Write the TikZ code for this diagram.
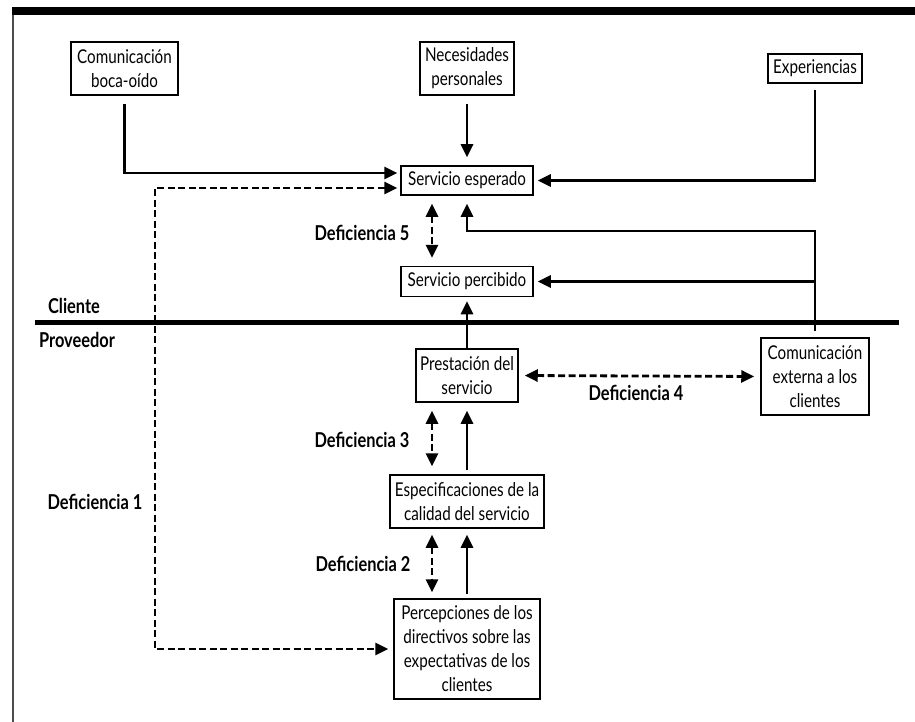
\documentclass[tikz,border=0pt]{standalone}
\usepackage{fontspec}
\setmainfont{Lato}[FakeStretch=0.8]
\usepackage{tikz}
\usetikzlibrary{arrows.meta}

\begin{document}
\begin{tikzpicture}[x=1pt, y=-1pt,
    font=\fontsize{19}{24}\selectfont,
    box/.style={shape=rectangle, draw, line width=1.5pt, align=center, inner sep=3pt},
    gap/.style={font=\fontsize{20.5}{24}\selectfont\bfseries},
    arr/.style={line width=2.8pt, -{Triangle[length=13pt,width=12pt]}},
    gaparr/.style={line width=2.8pt, dash pattern=on 7pt off 3.5pt, {Triangle[length=13pt,width=12pt]}-{Triangle[length=13pt,width=12pt]}}]
    \useasboundingbox (0,0) rectangle (915,722);
    % frame
    \fill (12,7) rectangle (915,15);
    \draw[line width=1.2pt, black!70] (13,15) -- (13,722);

    % client side
    \node[box, minimum width=107pt, minimum height=53pt] (boca) at (124.5,68.5) {Comunicación\\boca-oído};
    \node[box, minimum width=94pt, minimum height=53pt] (necesidades) at (467,68.5) {Necesidades\\personales};
    \node[box, minimum width=94pt, minimum height=29pt] (experiencias) at (815,68.5) {Experiencias};
    \node[box, minimum width=132pt, minimum height=29pt] (esperado) at (467,180.5) {Servicio esperado};
    \node[box, minimum width=132pt, minimum height=30pt] (percibido) at (467,281.5) {Servicio percibido};

    \draw[line width=5pt] (35,322) -- (899,322);
    \node[gap] (cliente) at (74,306) {Cliente};
    \node[gap] (proveedor) at (77,340) {Proveedor};

    % provider side
    \node[box, minimum width=102pt, minimum height=53pt] (prestacion) at (467,375.5) {Prestación del\\servicio};
    \node[box, minimum width=108pt, minimum height=77pt] (externa) at (815,376.5) {Comunicación\\externa a los\\clientes};
    \node[box, minimum width=154pt, minimum height=53pt] (especificaciones) at (467,501.5) {Especificaciones de la\\calidad del servicio};
    \node[box, minimum width=146pt, minimum height=100pt] (percepciones) at (467,649) {Percepciones de los\\directivos sobre las\\expectativas de los\\clientes};

    \node[gap] (def5) at (362,233) {Deficiencia 5};
    \node[gap] (def4) at (636,393) {Deficiencia 4};
    \node[gap] (def3) at (362,440) {Deficiencia 3};
    \node[gap] (def2) at (363,564) {Deficiencia 2};
    \node[gap] (def1) at (95,502) {Deficiencia 1};

    \coordinate (split) at (815,231);
    \coordinate (leftturn) at (155,188);

    % connectors
    \draw[arr, shorten <=8pt, shorten >=3pt] (boca.south) |- ([yshift=7.5pt]esperado.west);
    \draw[arr, shorten <=8pt, shorten >=8pt] (necesidades.south) -- (esperado.north);
    \draw[arr, shorten <=6pt, shorten >=4pt] (experiencias.south) |- (esperado.east);
    \draw[arr, shorten <=6pt, shorten >=8pt] (externa.north) -- (split) -| (esperado.south);
    \draw[arr, shorten >=4pt] (externa.north |- percibido.east) -- (percibido.east);
    \draw[arr, shorten >=4pt] (prestacion.north) -- (percibido.south);
    \draw[arr, shorten <=4pt, shorten >=8pt] (especificaciones.north) -- (prestacion.south);
    \draw[arr, shorten <=4pt, shorten >=6pt] (percepciones.north) -- (especificaciones.south);

    \draw[gaparr, shorten <=8pt, shorten >=8pt] ([xshift=-35pt]esperado.south) -- ([xshift=-35pt]percibido.north);
    \draw[gaparr, shorten <=6pt, shorten >=6pt] (prestacion.east) -- (externa.west);
    \draw[gaparr, shorten <=8pt, shorten >=8pt] ([xshift=-35pt]prestacion.south) -- ([xshift=-35pt]especificaciones.north);
    \draw[gaparr, shorten <=6pt, shorten >=6pt] ([xshift=-35pt]especificaciones.south) -- ([xshift=-35pt]percepciones.north);
    \draw[gaparr, shorten <=3pt, shorten >=5pt] ([yshift=-7.5pt]esperado.west) -- (leftturn) |- (percepciones.west);
\end{tikzpicture}
\end{document}
